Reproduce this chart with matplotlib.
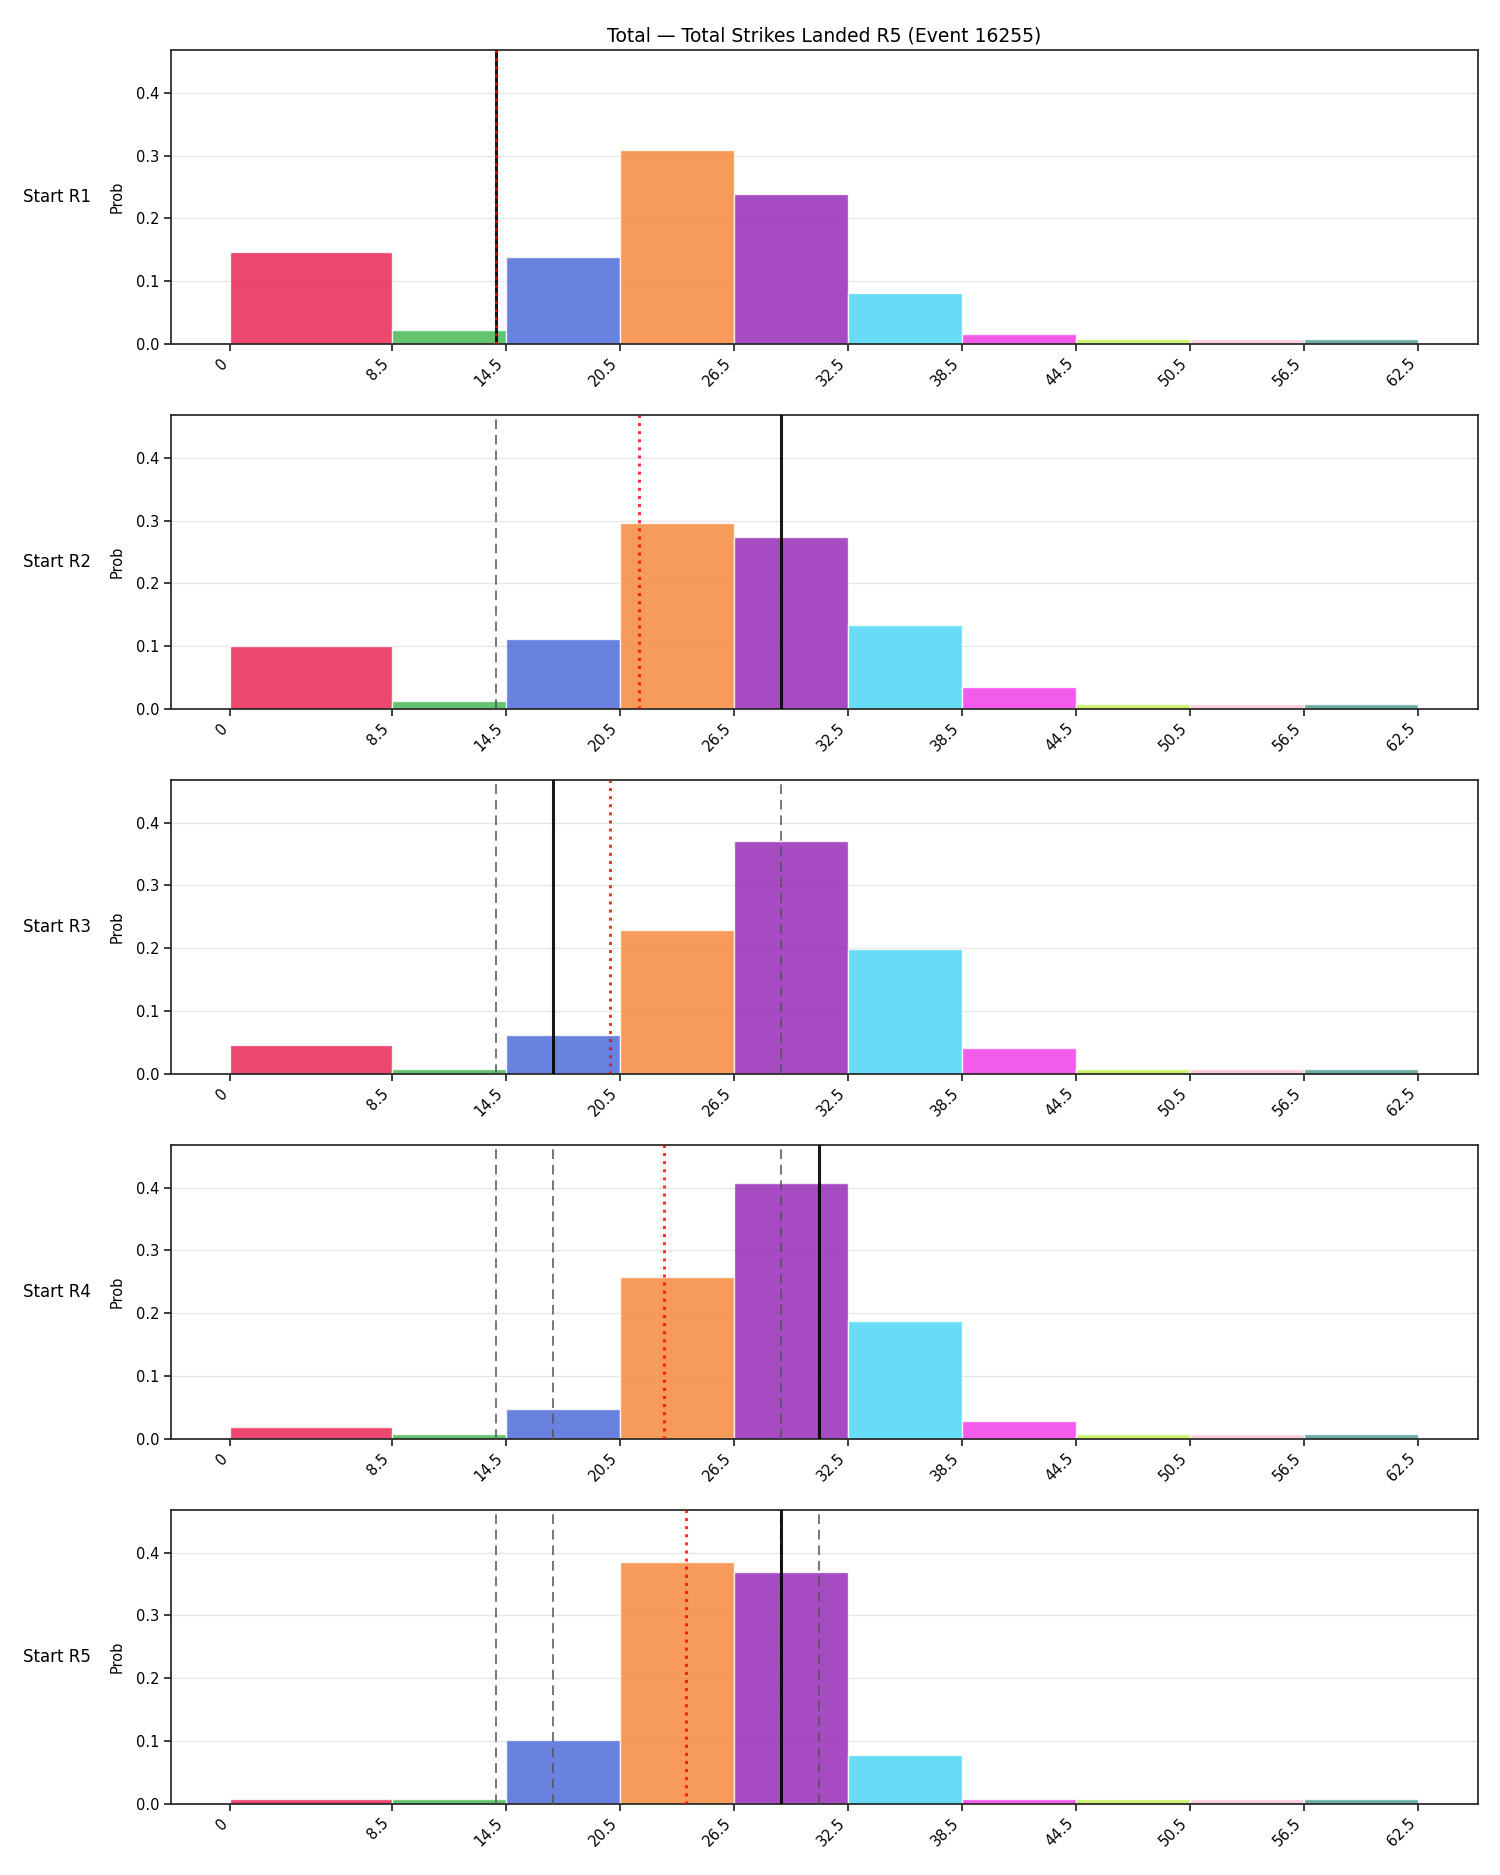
import numpy as np
import matplotlib
matplotlib.use("Agg")
import matplotlib.pyplot as plt

# ---- data ----
bin_edges = [0, 8.5, 14.5, 20.5, 26.5, 32.5, 38.5, 44.5, 50.5, 56.5, 62.5]
tick_labels = ["0", "8.5", "14.5", "20.5", "26.5", "32.5", "38.5", "44.5", "50.5", "56.5", "62.5"]
bar_colors = ["#e6194B", "#3cb44b", "#4363d8", "#f58231", "#911eb4",
              "#42d4f4", "#f032e6", "#bfef45", "#fabed4", "#469990"]

row_labels = ["Start R1", "Start R2", "Start R3", "Start R4", "Start R5"]

prob_r1 = [0.146, 0.023, 0.138, 0.309, 0.239, 0.081, 0.0155, 0.0075, 0.0075, 0.0075]
prob_r2 = [0.100, 0.012, 0.111, 0.296, 0.273, 0.133, 0.035, 0.0075, 0.0075, 0.0075]
prob_r3 = [0.046, 0.0075, 0.062, 0.229, 0.370, 0.199, 0.041, 0.0075, 0.0075, 0.0075]
prob_r4 = [0.019, 0.008, 0.048, 0.258, 0.407, 0.188, 0.028, 0.0075, 0.0075, 0.0075]
prob_r5 = [0.008, 0.008, 0.102, 0.385, 0.369, 0.078, 0.008, 0.0075, 0.0075, 0.0075]
probs = [prob_r1, prob_r2, prob_r3, prob_r4, prob_r5]

actual_values = [14, 29, 17, 31, 29]          # black solid line per row
expected_values = [14.0, 21.5, 20.0, 22.8, 24.0]  # red dotted line per row
previous_values = [[], [14], [14, 29], [14, 17, 29], [14, 17, 29, 31]]  # grey dashed

title = "Total \u2014 Total Strikes Landed R5 (Event 16255)"

# ---- plot ----
plt.rcParams["font.family"] = ["DejaVu Sans"]
fig, axes = plt.subplots(5, 1, figsize=(15, 18.75), dpi=100)
fig.subplots_adjust(left=0.114, right=0.985, top=0.9733, bottom=0.038, hspace=0.2415)

edges = np.array(bin_edges)
widths = np.diff(edges)
spine_col = "#262626"

for i, ax in enumerate(axes):
    ax.bar(edges[:-1], probs[i], width=widths, align="edge", color=bar_colors,
           alpha=0.8, edgecolor="white", linewidth=1.0, zorder=2)
    for v in previous_values[i]:
        ax.axvline(v, color="#555555", linestyle=(0, (5, 3)), linewidth=1.4, alpha=0.8, zorder=3)
    ax.axvline(actual_values[i], color="black", linestyle="-", linewidth=2.2, alpha=0.9, zorder=4)
    ax.axvline(expected_values[i], color="red", linestyle=":", linewidth=2.2, alpha=0.8, zorder=5)

    ax.set_ylim(0, 0.468)
    ax.set_xlim(-3.125, 65.625)
    ax.set_yticks([0.0, 0.1, 0.2, 0.3, 0.4])
    ax.set_xticks(bin_edges)
    ax.set_xticklabels(tick_labels, rotation=45, ha="right")
    ax.grid(axis="y", color="#e6e6e6", linewidth=1.0, zorder=0)
    ax.set_axisbelow(True)
    ax.set_ylabel("Prob", fontsize=10.5, labelpad=8)
    ax.tick_params(axis="both", labelsize=10.5, length=5, width=1.25, color=spine_col)
    for s in ax.spines.values():
        s.set_linewidth(1.25)
        s.set_color(spine_col)
    ax.text(-0.0875, 0.5, row_labels[i], transform=ax.transAxes, ha="center",
            va="center", fontsize=12)

axes[0].set_title(title, fontsize=13.5)

fig.savefig("out.png", dpi=100)
